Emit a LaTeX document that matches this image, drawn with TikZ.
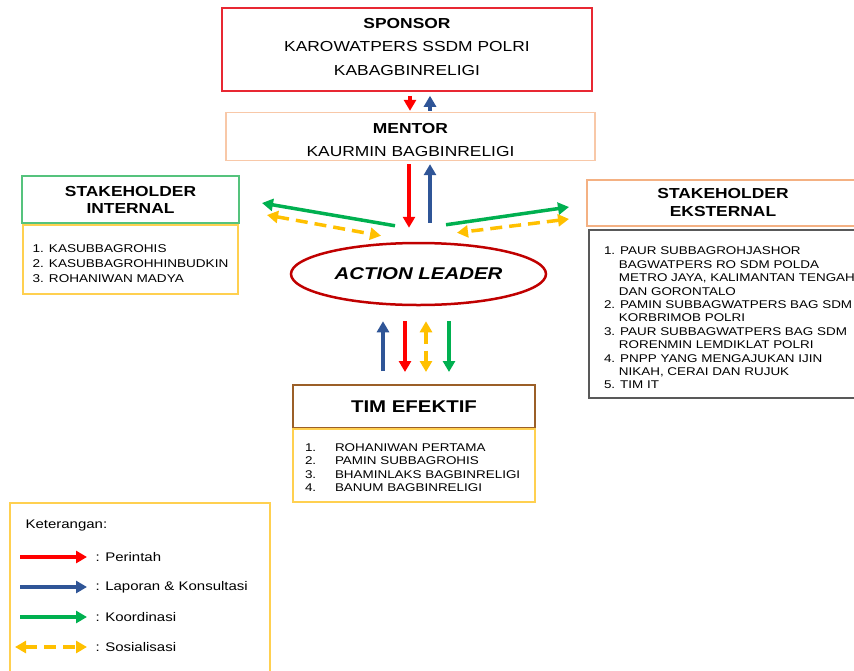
\documentclass[tikz,border=0pt]{standalone}
\usepackage{fontspec}
\setmainfont{Liberation Sans}[FakeStretch=1.2]
\usetikzlibrary{arrows.meta,shapes.geometric}
\definecolor{merah}{RGB}{255,0,0}
\definecolor{merahbox}{RGB}{232,40,50}
\definecolor{merahtua}{RGB}{192,0,0}
\definecolor{biru}{RGB}{47,85,151}
\definecolor{hijau}{RGB}{0,176,80}
\definecolor{hijaubox}{RGB}{85,195,125}
\definecolor{kuning}{RGB}{255,192,0}
\definecolor{kuningbox}{RGB}{255,208,80}
\definecolor{persik}{RGB}{244,177,131}
\definecolor{persikmuda}{RGB}{248,200,168}
\definecolor{coklat}{RGB}{155,95,40}
\tikzset{
  panah/.style={line width=3.5pt, -{Triangle[length=11pt,width=12pt]}},
  perintah/.style={panah, merah},
  laporan/.style={panah, biru},
  koordinasi/.style={panah, hijau},
  sosialisasi/.style={line width=3.5pt, kuning, dash pattern=on 12pt off 7pt,
    {Triangle[length=11pt,width=12pt]}-{Triangle[length=11pt,width=12pt]}},
  kotak/.style={draw, line width=1.5pt}
}
\newcommand\nomor[1]{\makebox[30pt][l]{#1}}
\newcommand\sisip{\hphantom{1.\ }}
\newcommand\atas[1]{\rule{0pt}{#1}}
\newcommand\bawah[1]{\rule[-#1]{0pt}{0pt}}
\begin{document}
\begin{tikzpicture}[x=1pt,y=-1pt]
\useasboundingbox (0,0) rectangle (854,670);

% top row
\node[kotak, draw=merahbox, minimum width=370pt, minimum height=83pt, align=center, font=\fontsize{14.5}{23.5}\selectfont] (sponsor) at (407,49.5) {\textbf{SPONSOR}\\KAROWATPERS SSDM POLRI\\KABAGBINRELIGI\bawah{6pt}};
\node[kotak, draw=persikmuda, minimum width=369pt, minimum height=47pt, align=center, font=\fontsize{14.5}{23}\selectfont] (mentor) at (410.5,136.5) {\atas{18pt}\textbf{MENTOR}\\KAURMIN BAGBINRELIGI};

% stakeholders
\node[kotak, draw=hijaubox, line width=2pt, minimum width=217pt, minimum height=47pt, align=center, font=\bfseries\fontsize{14.5}{17}\selectfont] (intHead) at (130.5,199.5) {STAKEHOLDER\\INTERNAL};
\node[kotak, draw=kuningbox, minimum width=215pt, minimum height=69pt, align=left, font=\fontsize{11.3}{15}\selectfont] (intList) at (130.5,259.5) {\atas{16pt}1. KASUBBAGROHIS\\2. KASUBBAGROHHINBUDKIN\\3. ROHANIWAN MADYA};
\node[kotak, draw=persik, line width=2pt, minimum width=272pt, minimum height=46pt, align=center, font=\bfseries\fontsize{14.5}{18}\selectfont] (extHead) at (723,203) {STAKEHOLDER\\EKSTERNAL};
\node[kotak, draw=black!65, line width=2pt, anchor=west, inner xsep=15pt, minimum height=168pt, align=left, font=\fontsize{11.2}{13.4}\selectfont] (extList) at (588,314) {\atas{16pt}1. PAUR SUBBAGROHJASHOR\\\sisip BAGWATPERS RO SDM POLDA\\\sisip METRO JAYA, KALIMANTAN TENGAH\\\sisip DAN GORONTALO\\2. PAMIN SUBBAGWATPERS BAG SDM\\\sisip KORBRIMOB POLRI\\3. PAUR SUBBAGWATPERS BAG SDM\\\sisip RORENMIN LEMDIKLAT POLRI\\4. PNPP YANG MENGAJUKAN IJIN\\\sisip NIKAH, CERAI DAN RUJUK\\5. TIM IT};

\node[ellipse, draw=merahtua, line width=2.5pt, minimum width=255pt, minimum height=62pt, font=\bfseries\itshape\fontsize{17}{20}\selectfont] (leader) at (418.5,274) {ACTION LEADER};

\node[kotak, draw=coklat, line width=2pt, minimum width=242pt, minimum height=43pt, font=\bfseries\fontsize{17}{20}\selectfont] (timHead) at (414,406.5) {TIM EFEKTIF};
\node[kotak, draw=kuningbox, minimum width=242pt, minimum height=73pt, text width=218pt, inner xsep=12pt, align=left, font=\fontsize{11.2}{13.3}\selectfont] (timList) at (414,465.5) {\atas{12pt}\nomor{1.}ROHANIWAN PERTAMA\\\nomor{2.}PAMIN SUBBAGROHIS\\\nomor{3.}BHAMINLAKS BAGBINRELIGI\\\nomor{4.}BANUM BAGBINRELIGI};

% arrows between the boxes
\draw[perintah, shorten <=4pt, shorten >=1pt] ([xshift=3pt]sponsor.south) -- ([xshift=-0.5pt]mentor.north);
\draw[laporan, shorten <=1pt, shorten >=4pt] ([xshift=19.5pt]mentor.north) -- ([xshift=23pt]sponsor.south);
\draw[perintah, shorten <=3pt, shorten >=14pt] ([xshift=-1.5pt]mentor.south) -- ([xshift=-9.5pt]leader.north);
\draw[laporan, shorten <=19pt, shorten >=3pt] ([xshift=11.5pt]leader.north) -- ([xshift=19.5pt]mentor.south);
\draw[koordinasi] ([shift={(-23.5,-16)}]leader.north) -- ([shift={(22,3.5)}]intHead.east);
\draw[sosialisasi] ([shift={(27,15.5)}]intHead.east) -- ([shift={(-37.5,-6)}]leader.north);
\draw[koordinasi] ([shift={(27.5,-17)}]leader.north) -- ([shift={(-17,4)}]extHead.west);
\draw[sosialisasi] ([shift={(-17,16)}]extHead.west) -- ([shift={(38.5,-9)}]leader.north);
\draw[laporan, shorten <=13pt, shorten >=15pt] ([xshift=-31pt]timHead.north) -- ([xshift=-35.5pt]leader.south);
\draw[perintah, shorten <=15pt, shorten >=12pt] ([xshift=-13.5pt]leader.south) -- ([xshift=-9pt]timHead.north);
\draw[sosialisasi, shorten <=15pt, shorten >=12pt] ([xshift=7.5pt]leader.south) -- ([xshift=12pt]timHead.north);
\draw[koordinasi, shorten <=15pt, shorten >=12pt] ([xshift=30.5pt]leader.south) -- ([xshift=35pt]timHead.north);

% legend
\node[kotak, draw=kuningbox, minimum width=260pt, minimum height=180pt] (legend) at (140,593) {};
\node[anchor=west, font=\fontsize{12.5}{14}\selectfont] (ket) at (22,525) {Keterangan:};
\foreach \warna/\ket [count=\i] in {merah/Perintah, biru/Laporan \& Konsultasi, hijau/Koordinasi}{
  \node[anchor=west, font=\fontsize{12.5}{14}\selectfont] (lbl\i) at (92,527+30*\i) {: \ket};
  \draw[panah, color=\warna] ([xshift=-72pt]lbl\i.west) -- ([xshift=-5pt]lbl\i.west);
}
\node[anchor=west, font=\fontsize{12.5}{14}\selectfont] (lbl4) at (92,647) {: Sosialisasi};
\draw[sosialisasi] ([xshift=-77pt]lbl4.west) -- ([xshift=-5pt]lbl4.west);
\end{tikzpicture}
\end{document}
